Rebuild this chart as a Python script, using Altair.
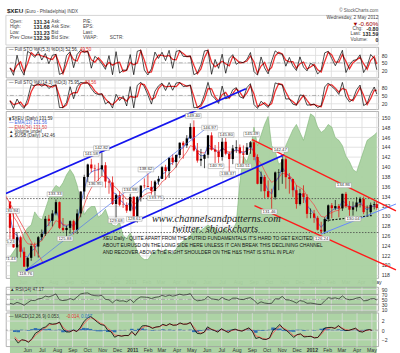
import altair as alt
import pandas as pd

FONT = "Liberation Sans"
GRID = "#dcdcdc"
W = 377

# ---------------- data (weekly) ----------------
week_dates = [d.strftime("%Y-%m-%d") for d in pd.date_range("2010-05-07", "2012-04-27", freq="W-FRI")] + ["2012-05-02"]

highs = [133.00, 130.94, 126.73, 125.95, 123.60, 121.60, 124.37, 124.55, 125.90, 127.22,
         129.95, 130.20, 131.15, 133.33, 132.90, 129.55, 128.00, 129.10, 129.20, 131.33,
         134.95, 138.35, 140.60, 141.58, 140.40, 140.75, 142.82, 140.90, 137.40, 138.00,
         134.50, 135.00, 134.35, 132.75, 134.48, 134.00, 134.05, 136.15, 137.60, 138.62,
         137.10, 137.25, 138.10, 140.10, 140.37, 141.85, 142.50, 142.50, 144.90, 145.20,
         146.40, 148.80, 149.40, 144.80, 143.60, 142.50, 146.40, 146.97, 144.40, 145.00,
         145.80, 145.80, 143.10, 144.40, 145.36, 144.50, 144.30, 144.80, 145.20, 145.49,
         142.50, 139.00, 138.30, 137.20, 135.50, 139.00, 139.50, 142.47, 141.90, 138.70,
         137.50, 136.20, 135.50, 136.20, 134.40, 131.50, 131.20, 130.00, 128.80, 129.70,
         132.30, 132.60, 133.22, 132.40, 134.50, 134.86, 133.00, 132.90, 133.80, 133.85,
         133.90, 132.10, 132.70, 132.90, 132.80]
lows = [125.20, 123.50, 121.43, 121.52, 119.60, 118.76, 120.85, 121.78, 121.52, 125.00,
        125.90, 127.90, 127.85, 130.10, 127.30, 126.80, 125.88, 126.35, 126.20, 126.30,
        129.70, 133.50, 136.70, 138.85, 136.95, 137.10, 138.10, 135.70, 134.48, 132.20,
        129.68, 131.95, 131.60, 130.60, 130.90, 128.90, 128.61, 132.90, 135.60, 135.80,
        134.30, 133.75, 136.30, 137.50, 137.30, 137.70, 140.30, 139.80, 141.70, 141.60,
        143.80, 145.60, 143.05, 140.80, 140.10, 139.68, 141.70, 143.25, 140.70, 140.75,
        141.20, 142.30, 138.37, 140.50, 142.80, 140.55, 140.50, 142.40, 142.60, 141.30,
        136.40, 134.95, 133.60, 133.60, 131.46, 133.30, 135.20, 136.50, 135.50, 134.50,
        133.80, 131.45, 132.10, 132.60, 129.50, 129.50, 128.58, 127.00, 126.24, 126.30,
        128.80, 129.50, 131.20, 129.70, 131.00, 131.60, 130.00, 130.04, 130.90, 131.70,
        130.33, 129.96, 129.95, 131.30, 131.23]
closes = [127.55, 123.58, 125.66, 122.70, 119.67, 121.46, 123.85, 123.75, 125.65, 126.35,
          129.40, 128.97, 130.48, 132.78, 127.55, 127.10, 127.55, 128.92, 127.13, 130.48,
          134.94, 137.90, 140.43, 139.64, 139.55, 139.43, 140.27, 136.97, 136.77, 132.40,
          134.20, 132.25, 132.19, 131.05, 133.84, 129.07, 133.80, 136.14, 136.03, 135.87,
          135.05, 136.97, 137.51, 139.88, 139.10, 141.81, 140.92, 142.36, 144.86, 144.30,
          145.74, 148.06, 143.27, 141.22, 141.58, 142.41, 146.35, 143.44, 143.04, 141.95,
          145.05, 142.62, 141.53, 143.70, 143.93, 142.68, 142.41, 143.92, 144.95, 141.96,
          136.50, 137.91, 135.01, 133.84, 133.77, 138.82, 138.91, 141.50, 137.85, 137.49,
          135.20, 132.39, 134.59, 133.80, 130.40, 130.47, 129.60, 127.17, 126.80, 129.33,
          132.13, 131.56, 131.98, 131.50, 134.47, 131.99, 131.24, 131.73, 132.71, 133.45,
          130.75, 130.76, 132.22, 132.37, 131.59]
first_open = 132.90

usb_close = [119.0, 120.0, 121.0, 121.5, 123.5, 124.5, 125.0, 127.5, 126.5, 126.0,
             128.0, 130.0, 131.5, 132.5, 132.0, 133.0, 134.5, 135.5, 134.5, 132.5,
             129.5, 127.0, 128.0, 128.5, 128.5, 126.5, 127.0, 128.0, 126.0, 125.0,
             124.8, 125.5, 123.0, 122.5, 123.5, 122.0, 120.0, 119.0, 118.5, 118.5,
             119.5, 120.0, 120.5, 119.5, 120.5, 120.0, 119.5, 120.5, 121.5, 122.0,
             122.5, 123.0, 124.0, 124.5, 124.0, 124.5, 125.0, 124.5, 124.5, 123.5,
             124.0, 124.5, 123.5, 124.0, 125.5, 133.0, 138.0, 137.0, 139.0, 143.5,
             140.0, 142.0, 144.0, 145.5, 140.0, 139.0, 136.5, 137.0, 140.0, 141.5,
             143.0, 144.0, 142.5, 141.0, 143.5, 146.0, 145.5, 143.5, 142.5, 143.0,
             144.0, 143.5, 141.5, 141.0, 140.0, 138.0, 137.0, 135.5, 135.0, 137.0,
             139.0, 141.0, 141.5, 142.0, 142.46]

rsi14 = [34, 30, 38, 33, 26, 36, 46, 45, 52, 54,
         63, 60, 65, 72, 48, 45, 47, 53, 48, 60,
         72, 75, 76, 68, 65, 64, 66, 50, 48, 36,
         48, 43, 44, 40, 50, 37, 52, 60, 59, 58,
         53, 58, 60, 66, 62, 67, 63, 66, 71, 67,
         69, 73, 52, 44, 46, 49, 62, 52, 50, 47,
         58, 50, 46, 55, 55, 50, 49, 54, 57, 46,
         32, 40, 35, 33, 34, 52, 52, 62, 48, 47,
         42, 35, 45, 42, 34, 35, 33, 30, 29, 44,
         57, 54, 56, 52, 64, 52, 48, 50, 55, 58,
         44, 45, 52, 53, 47.17]

# indicator start levels read at the left edge
ema13_start, ema34_start = 132.8, 133.5
macd_fast_start, macd_slow_start, macd_signal_start = 132.6, 133.4, -0.6

# x range and months
x_start, x_end = "2010-04-29", "2012-05-05"
month_starts = pd.date_range("2010-06-01", "2012-05-01", freq="MS")

# drawn annotation lines on the price panel: (id, date, value)
line_ids = ["ub", "ub", "lb", "lb", "tb", "tb", "r0", "r0", "nk", "nk"]
line_dates = ["2010-04-29", "2011-08-17", "2010-06-07", "2011-11-01", "2010-06-07", "2011-06-07",
              "2010-04-29", "2010-07-12", "2012-01-21", "2012-04-22"]
line_vals = [134.53, 155.82, 118.9, 142.42, 118.9, 148.4,
             133.99, 120.34, 129.03, 130.04]
# lines that run past the right edge of the panel
ext_ids = ["nb", "nb", "ur", "ur", "lr", "lr"]
ext_dates = ["2012-01-13", "2012-06-09", "2011-08-29", "2012-06-09", "2011-09-03", "2012-06-09"]
ext_vals = [126.3, 132.4, 145.49, 131.02, 132.06, 118.99]
# continuation of the upper blue line across the stochastic panel above
ub_cont_dates = ["2011-05-16", "2011-08-17"]
ub_cont_vals = [-2, 75.3]
hline_vals = [133.5, 126.6]

label_dates = ["2010-05-10", "2010-05-03", "2010-05-05", "2010-06-07", "2010-08-04", "2010-08-24",
               "2010-10-15", "2010-11-04", "2010-10-22", "2010-12-03", "2010-12-31", "2011-01-08",
               "2011-01-31", "2011-02-19", "2011-05-05", "2011-06-06", "2011-06-19", "2011-07-12",
               "2011-07-09", "2011-08-12", "2011-08-28", "2011-10-24", "2011-10-02", "2012-02-26",
               "2012-01-14", "2012-03-16"]
label_vals = [130.98, 124.75, 121.14, 118.19, 134.39, 125.36,
              142.57, 143.77, 136.40, 129.03, 135.20, 129.37,
              139.41, 133.59, 150.32, 147.91, 140.08, 138.55,
              146.44, 140.08, 146.58, 143.43, 130.84, 136.20,
              125.36, 129.37]
label_texts = ["130.94", "125.23", "121.43", "118.76", "133.33", "125.88",
               "141.58", "142.82", "136.95", "129.68", "134.98", "128.61",
               "138.62", "133.75", "149.40", "146.97", "140.70", "138.37",
               "145.80", "140.51", "145.49", "142.47", "131.46", "134.86",
               "126.24", "130.04"]

# ---------------- indicator computation ----------------
n = len(closes)
opens = [first_open] + closes[:-1]


def ema(values, start, span_days):
    a = 1 - (1 - 2.0 / (span_days + 1)) ** 5
    out, e = [], start
    for v in values:
        e = e + a * (v - e)
        out.append(e)
    return out


def stoch(look):
    out = []
    for i in range(n):
        lo = min(lows[max(0, i - look + 1): i + 1])
        hi = max(highs[max(0, i - look + 1): i + 1])
        out.append(100.0 * (closes[i] - lo) / (hi - lo))
    return out


fast = ema(closes, macd_fast_start, 12)
slow = ema(closes, macd_slow_start, 26)
macd = [f - s for f, s in zip(fast, slow)]
signal = ema(macd, macd_signal_start, 9)

px = pd.DataFrame({
    "date": week_dates, "open": opens, "high": highs, "low": lows, "close": closes,
    "usb": usb_close, "rsi": rsi14,
    "ema13": ema(closes, ema13_start, 13), "ema34": ema(closes, ema34_start, 34),
    "macd": macd, "signal": signal,
})
px["hist"] = px["macd"] - px["signal"]
px["dir"] = ["up" if c >= o else "down" for o, c in zip(opens, closes)]
px["sto1k"] = stoch(1)
px["sto1d"] = px["sto1k"].rolling(2, min_periods=1).mean()
px["sto2k"] = stoch(3)
px["sto2d"] = px["sto2k"].rolling(2, min_periods=1).mean()

lines = pd.DataFrame({"id": line_ids, "date": line_dates, "val": line_vals})
ext = pd.DataFrame({"id": ext_ids, "date": ext_dates, "val": ext_vals})
ubc = pd.DataFrame({"date": ub_cont_dates, "val": ub_cont_vals})
hl = pd.DataFrame({"v": hline_vals})
labels = pd.DataFrame({"date": label_dates, "val": label_vals, "txt": label_texts})


def ms(s):
    return int(pd.Timestamp(s, tz="UTC").timestamp() * 1000)


month_ms = [ms(d.strftime("%Y-%m-%d")) for d in month_starts]
xscale = alt.Scale(type="utc", domain=[ms(x_start), ms(x_end)])

x_axis_lab = alt.Axis(values=month_ms, grid=True, gridColor=GRID, gridWidth=0.8, ticks=False, domain=False,
                      labelExpr="utcmonth(datum.value) == 0 ? utcFormat(datum.value, '%Y') : utcFormat(datum.value, '%b')",
                      labelFontWeight={"condition": {"test": "utcmonth(datum.value) == 0", "value": "bold"}, "value": "normal"},
                      labelFontSize=5.2, labelPadding=1.5, labelColor="#333", labelFont=FONT, labelOverlap=False, title=None)
x_axis_nolab = alt.Axis(values=month_ms, grid=True, gridColor=GRID, gridWidth=0.8, ticks=False, domain=False,
                        labels=False, title=None)


def X(axis):
    return alt.X("date:T", scale=xscale, axis=axis, title=None)


def yaxis(vals):
    return alt.Axis(orient="right", values=vals, grid=True, gridColor=GRID, gridWidth=0.8, ticks=False, domain=False,
                    labelFontSize=5.2, labelPadding=3, labelColor="#333", labelFont=FONT, labelOverlap=False, title=None)


one = pd.DataFrame({"k": [0]})


def T(s, x, y, size=5.0, color="#222", align="left", weight="normal", font=FONT, italic=False):
    props = dict(text=s, align=align, baseline="middle", fontSize=size, color=color, fontWeight=weight, font=font)
    if italic:
        props["fontStyle"] = "italic"
    return alt.Chart(one).mark_text(**props).encode(x=alt.value(x), y=alt.value(y))


base = alt.Chart(px)
NOFRAME = alt.ViewBackground(stroke="transparent")

# ---------------- header ----------------
hdr_layers = [
    alt.Chart(one).mark_rect(fill="white", stroke="#c8c8c8", strokeWidth=0.8).encode(
        x=alt.value(0), x2=alt.value(377), y=alt.value(9), y2=alt.value(39)),
    T("$XEU", 1, 5, size=6.3, weight="bold"),
    T("(Euro - Philadelphia) INDX", 19, 5.3, size=4.6, color="#444"),
    T("© StockCharts.com", 377, 4.3, size=4.6, align="right", color="#555"),
    T("Wednesday, 2 May 2012", 377, 11.7, size=4.8, align="right", color="#444"),
    T("▼", 351, 17.3, size=6, color="#a00000"),
    T("-0.60%", 377, 17.3, size=6.3, align="right", color="#a00000"),
    T("Chg:", 351, 22.7, size=4.8, color="#444"),
    T("-0.80", 377, 22.7, size=5.2, align="right", weight="bold"),
    T("Last:", 349, 28.3, size=4.8, color="#444"),
    T("131.59", 377, 28.3, size=5.2, align="right", weight="bold"),
    T("Volume:", 349, 34, size=4.8, color="#444"),
    T("0", 377, 34, size=5.2, align="right", weight="bold"),
]
rows = [("Open:", "131.34", "Ask:", "P/E:", 15.7), ("High:", "131.68", "Ask Size:", "EPS:", 21.2),
        ("Low:", "131.23", "Bid:", "Last:", 26.8), ("Prev Close:", "132.39", "Bid Size:", "VWAP:", 32.4)]
for a, b, c, d, yy in rows:
    hdr_layers += [T(a, 4, yy, size=4.7, color="#444"), T(b, 28, yy, size=5.3, weight="bold"),
                   T(c, 46, yy, size=4.7, color="#444"), T(d, 78, yy, size=4.7, color="#444")]
hdr_layers.append(T("SCTR:", 105, 32.4, size=4.7, color="#444"))
header = alt.layer(*hdr_layers).properties(width=W, height=39, view=NOFRAME)


# ---------------- stochastics ----------------
def sto_panel(kcol, dcol, h, dom, txt1, txt2, x2, extra=None):
    ys = alt.Scale(domain=dom, nice=False, zero=False)
    ya = yaxis([20, 50, 80])
    r50 = alt.Chart(pd.DataFrame({"v": [50]})).mark_rule(color="#888", strokeWidth=0.6, strokeDash=[4, 2, 1, 2]).encode(
        y=alt.Y("v:Q", scale=ys, axis=ya))
    dl = base.mark_line(color="#ee3030", strokeWidth=1.3).encode(x=X(x_axis_nolab), y=alt.Y(dcol + ":Q", scale=ys, axis=ya))
    kl = base.mark_line(color="#000000", strokeWidth=0.7).encode(x=X(x_axis_nolab), y=alt.Y(kcol + ":Q", scale=ys, axis=ya))
    layers = [r50, dl, kl]
    if extra is not None:
        layers.append(alt.Chart(extra).mark_line(color="#1515ee", strokeWidth=1.8, clip=True).encode(
            x=X(x_axis_nolab), y=alt.Y("val:Q", scale=ys, axis=ya)))
    layers += [T(txt1, 3, 3, size=4.6, color="#333"), T(txt2, x2, 3, size=4.6, color="#e03030")]
    return alt.layer(*layers).properties(width=W, height=h)


sto1 = sto_panel("sto1k", "sto1d", 31, [-8, 112], "— Full STO %K(5,3) %D(3) 52.56,", "49.50", 75)
sto2 = sto_panel("sto2k", "sto2d", 30, [-2, 110], "— Full STO %K(14,3) %D(3) 75.95,", "83.56", 80, extra=ubc)

# ---------------- main price panel ----------------
ys_main = alt.Scale(domain=[117.34, 151.26], nice=False, zero=False)
ya_main = yaxis(list(range(118, 151, 2)))
XM = X(x_axis_lab)
cscale = alt.Scale(domain=["up", "down"], range=["#000000", "#e00000"])

usb_area = base.mark_area(color="#a9d1a0", opacity=0.95, line={"color": "#7db575", "strokeWidth": 0.6}).encode(
    x=XM, y=alt.Y("usb:Q", scale=alt.Scale(domain=[115, 146.5], nice=False, zero=False), axis=None),
    y2=alt.value(169))


def L(src, ids, color, width, dash=None, clip=True):
    props = dict(color=color, strokeWidth=width, clip=clip)
    if dash:
        props["strokeDash"] = dash
    return alt.Chart(src).transform_filter(alt.FieldOneOfPredicate(field="id", oneOf=ids)).mark_line(**props).encode(
        x=XM, y=alt.Y("val:Q", scale=ys_main, axis=ya_main), detail="id:N")


price_layers = [
    alt.Chart(hl).mark_rule(color="#444", strokeWidth=0.8, strokeDash=[1.5, 1.5]).encode(
        y=alt.Y("v:Q", scale=ys_main, axis=ya_main)),
    base.mark_line(color="#f05050", strokeWidth=0.8, clip=True).encode(x=XM, y=alt.Y("ema34:Q", scale=ys_main, axis=ya_main)),
    base.mark_line(color="#4466dd", strokeWidth=0.8, clip=True).encode(x=XM, y=alt.Y("ema13:Q", scale=ys_main, axis=ya_main)),
    base.mark_rule(strokeWidth=0.7).encode(x=XM, y=alt.Y("low:Q", scale=ys_main, axis=ya_main), y2="high:Q",
                                          color=alt.Color("dir:N", scale=cscale, legend=None)),
    base.mark_rule(strokeWidth=2.3).encode(x=XM, y=alt.Y("open:Q", scale=ys_main, axis=ya_main), y2="close:Q",
                                          color=alt.Color("dir:N", scale=cscale, legend=None)),
    L(lines, ["tb"], "#5577ee", 0.7),
    L(ext, ["nb"], "#6688ff", 1.0, clip=False),
    L(lines, ["r0"], "#ee4444", 0.8),
    L(lines, ["ub", "lb"], "#1515ee", 1.8),
    L(ext, ["ur", "lr"], "#ff1a1a", 1.4, clip=False),
    L(lines, ["nk"], "#111111", 1.1, [2, 1.5]),
    alt.Chart(labels).mark_point(shape="M-1,-0.3L1,-0.3L1,0.3L-1,0.3Z", size=250, filled=True, fill="white",
                                 stroke="#999", strokeWidth=0.5, opacity=1, clip=True).encode(
        x=XM, y=alt.Y("val:Q", scale=ys_main, axis=ya_main)),
    alt.Chart(labels).mark_text(fontSize=4.4, color="#333", font=FONT, clip=True).encode(
        x=XM, y=alt.Y("val:Q", scale=ys_main, axis=ya_main), text="txt:N"),
    T("www.channelsandpatterns.com", 213, 109, size=10.5, color="#222", align="center", font="Liberation Serif", italic=True),
    T("twitter: shjackcharts", 212, 119.5, size=10.5, color="#222", align="center", font="Liberation Serif", italic=True),
    T("XEU Daily - QUITE APART FROM THE PUTRID FUNDAMENTALS IT'S HARD TO GET EXCITED", 98, 129.5, size=4.9, color="#111"),
    T("ABOUT EURUSD ON THE LONG SIDE HERE UNLESS IT CAN BREAK THIS DECLINING CHANNEL", 98, 136.5, size=4.9, color="#111"),
    T("AND RECOVER ABOVE THE RIGHT SHOULDER ON THE H&S THAT IS STILL IN PLAY", 98, 143.5, size=4.9, color="#111"),
    T("▮ $XEU (Daily) 131.59", 3, 8, size=4.5, color="#333"),
    T("— EMA(13) 131.56", 3, 12.4, size=4.5, color="#4466dd"),
    T("— EMA(34) 131.50", 3, 16.8, size=4.5, color="#e04040"),
    T("▲ Volume undef", 3, 21.2, size=4.5, color="#333"),
    T("▲ $USB (Daily) 142.46", 3, 25.6, size=4.5, color="#333"),
]
main = alt.layer(usb_area, alt.layer(*price_layers)).resolve_scale(y="independent").properties(width=W, height=169)

# spacer that leaves room for the month labels of the price panel
spacer = alt.Chart(one).mark_text(text=" ").encode(x=alt.value(0), y=alt.value(0)).properties(
    width=W, height=5, view=NOFRAME)

# ---------------- RSI ----------------
ys_rsi = alt.Scale(domain=[4, 100], nice=False, zero=False)
ya_rsi = yaxis([10, 30, 50, 70, 90])
rsi = alt.layer(
    alt.Chart(pd.DataFrame({"v": [30, 70]})).mark_rule(color="#888", strokeWidth=0.7).encode(
        y=alt.Y("v:Q", scale=ys_rsi, axis=ya_rsi)),
    alt.Chart(pd.DataFrame({"v": [50]})).mark_rule(color="#888", strokeWidth=0.6, strokeDash=[4, 2, 1, 2]).encode(
        y=alt.Y("v:Q", scale=ys_rsi, axis=ya_rsi)),
    base.mark_line(color="#222", strokeWidth=0.7).encode(x=X(x_axis_nolab), y=alt.Y("rsi:Q", scale=ys_rsi, axis=ya_rsi)),
    T("▲ RSI(14) 47.17", 4, 2.8, size=4.6, color="#333"),
).properties(width=W, height=24)

# ---------------- MACD ----------------
ys_m = alt.Scale(domain=[-3.4, 3.7], nice=False, zero=False)
ya_m = yaxis([-2, 0, 2])
XB = X(x_axis_lab)
macd_p = alt.layer(
    alt.Chart(pd.DataFrame({"v": [0]})).mark_rule(color="#888", strokeWidth=0.6, strokeDash=[3, 2]).encode(
        y=alt.Y("v:Q", scale=ys_m, axis=ya_m)),
    base.mark_bar(size=3.6, color="#2f6fb0").encode(x=XB, y=alt.Y("hist:Q", scale=ys_m, axis=ya_m), y2=alt.datum(0)),
    base.mark_line(color="#ff5050", strokeWidth=0.8).encode(x=XB, y=alt.Y("signal:Q", scale=ys_m, axis=ya_m)),
    base.mark_line(color="#000000", strokeWidth=0.8).encode(x=XB, y=alt.Y("macd:Q", scale=ys_m, axis=ya_m)),
    T("— MACD(12,26,9) 0.053,", 3, 4, size=4.6, color="#333"),
    T("-0.014,", 61, 4, size=4.6, color="#e03030"),
    T("0.067", 76, 4, size=4.6, color="#3070c0"),
).properties(width=W, height=34)

chart = alt.vconcat(header, sto1, sto2, main, spacer, rsi, macd_p, spacing=2, bounds="flush").resolve_scale(
    x="independent", y="independent", color="independent"
).properties(padding={"left": 5, "top": 0, "right": 0, "bottom": 0}).configure_view(
    stroke="#a0a0a0", strokeWidth=0.8
)

chart.save("out.html", embed_options={"renderer": "svg", "actions": False})
